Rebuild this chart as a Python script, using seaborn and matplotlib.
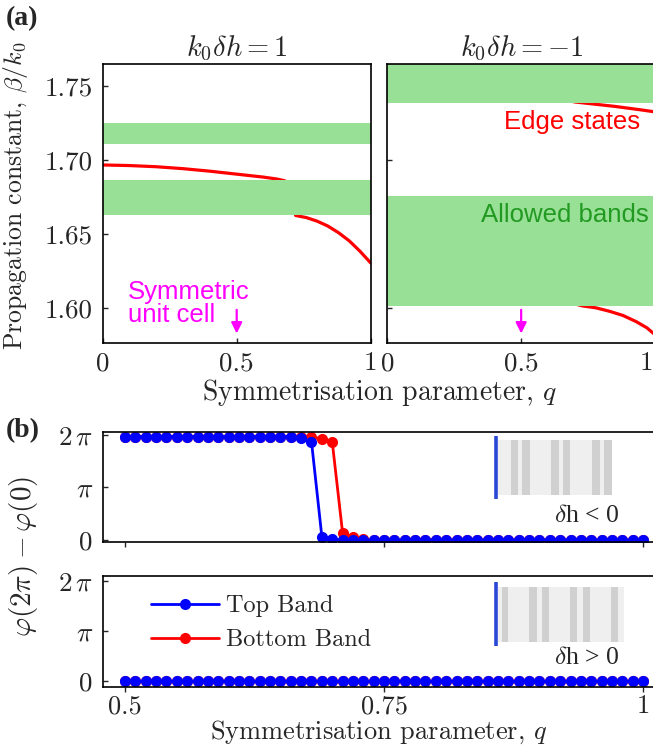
import numpy as np
import pandas as pd
import matplotlib
matplotlib.use('Agg')
import matplotlib.pyplot as plt
import matplotlib.transforms as mtransforms
import seaborn as sns

# ---- data ----
# (a) edge states, k0*dh = 1
q_left = [0, 0.1, 0.2, 0.3, 0.4, 0.5, 0.6, 0.65, 0.68, 0.70, 0.72, 0.76, 0.80, 0.84, 0.88, 0.92, 0.96, 1.0]
beta_left = [1.6967, 1.6963, 1.6955, 1.6942, 1.6925, 1.6905, 1.6885, 1.6872, 1.6860, 1.6760,
             1.6626, 1.6612, 1.6588, 1.6555, 1.6510, 1.6455, 1.6385, 1.6306]
bands_left = [(1.7109, 1.7248), (1.6630, 1.6866)]

# (a) edge states, k0*dh = -1
q_right_top = [0.5, 0.6, 0.7, 0.75, 0.8, 0.85, 0.9, 0.95, 1.0]
beta_right_top = [1.7470, 1.7440, 1.7392, 1.7382, 1.7372, 1.7362, 1.7350, 1.7338, 1.7325]
q_right_bot = [0.5, 0.6, 0.7, 0.73, 0.78, 0.83, 0.88, 0.93, 0.97, 1.0]
beta_right_bot = [1.6100, 1.6070, 1.6030, 1.6016, 1.6003, 1.5980, 1.5952, 1.5910, 1.5868, 1.5822]
bands_right = [(1.7387, 1.8000), (1.6016, 1.6758)]

# (b) winding of the phase
q_b = [0.50, 0.51, 0.52, 0.53, 0.54, 0.55, 0.56, 0.57, 0.58, 0.59,
       0.60, 0.61, 0.62, 0.63, 0.64, 0.65, 0.66, 0.67, 0.68, 0.69,
       0.70, 0.71, 0.72, 0.73, 0.74, 0.75, 0.76, 0.77, 0.78, 0.79,
       0.80, 0.81, 0.82, 0.83, 0.84, 0.85, 0.86, 0.87, 0.88, 0.89,
       0.90, 0.91, 0.92, 0.93, 0.94, 0.95, 0.96, 0.97, 0.98, 0.99, 1.00]
phase_neg_top = [6.18] * 17 + [6.08, 5.88, 0.20, 0.06] + [0.0] * 30
phase_neg_bottom = [6.18] * 18 + [6.15, 6.05, 5.88, 0.44, 0.16, 0.05] + [0.0] * 27
phase_pos_top = [0.0] * 51
phase_pos_bottom = [0.0] * 51

# ---- style ----
sns.set_style('ticks')
plt.rcParams['font.family'] = 'serif'
plt.rcParams['font.serif'] = ['cmr10']
plt.rcParams['mathtext.fontset'] = 'cm'
plt.rcParams['axes.formatter.use_mathtext'] = True
plt.rcParams['axes.edgecolor'] = 'black'
plt.rcParams['axes.linewidth'] = 1.2

GREEN = '#98e096'
TICK_FS = 19.5
LABEL_FS = 20
W, H = 653, 747
fig = plt.figure(figsize=(W / 100, H / 100), dpi=100)


def frac(l, t, r, b):
    return [l / W, 1 - b / H, (r - l) / W, (b - t) / H]


ax1 = fig.add_axes(frac(102.7, 64.3, 370.7, 343.3))
ax2 = fig.add_axes(frac(387.3, 64.3, 655, 343.3))
ax3 = fig.add_axes(frac(102.7, 432, 656, 541.7))
ax4 = fig.add_axes(frac(102.7, 575.7, 656, 686.7))

# ---- panel (a) ----
sns.lineplot(x=q_left, y=beta_left, color='red', lw=2.3, ax=ax1, zorder=1)
for lo, hi in bands_left:
    ax1.axhspan(lo, hi, color=GREEN, lw=0, zorder=1.5)
sns.lineplot(x=q_right_top, y=beta_right_top, color='red', lw=2.3, ax=ax2, zorder=1)
sns.lineplot(x=q_right_bot, y=beta_right_bot, color='red', lw=2.3, ax=ax2, zorder=1)
for lo, hi in bands_right:
    ax2.axhspan(lo, hi, color=GREEN, lw=0, zorder=1.5)

for ax in (ax1, ax2):
    ax.set_xlim(0, 1)
    ax.set_ylim(1.5764, 1.7646)
    ax.set_xticks([0, 0.5, 1])
    ax.set_yticks([1.60, 1.65, 1.70, 1.75])
    ax.tick_params(direction='in', length=3.5, width=1, labelsize=TICK_FS, pad=6)
    ax.tick_params(axis='y', pad=7)
    ax.annotate('', xy=(0.5, 1.5830), xytext=(0.5, 1.5990),
                arrowprops=dict(arrowstyle='-|>', color='magenta', lw=1.6,
                                mutation_scale=16, shrinkA=0, shrinkB=0), zorder=4)
ax1.set_xticklabels(['0', '0.5', '1'])
ax1.set_yticklabels(['1.60', '1.65', '1.70', '1.75'])
ax2.set_yticklabels([])
# last tick label of the right panel sits at the cropped edge: nudge it inwards
ax2.set_xticklabels(['0', '0.5', ''])
edge_tf = mtransforms.offset_copy(ax2.get_xaxis_transform(), fig=fig, x=-9, y=-8.3, units='dots')
ax2.text(1, 0, '1', transform=edge_tf, ha='center', va='top', fontsize=TICK_FS, clip_on=False)

ax1.text(0.094, 1.6034, 'Symmetric\nunit cell', color='magenta', ha='left', va='center',
         fontsize=18.5, linespacing=0.92, family='Liberation Sans', zorder=4)
ax2.text(0.946, 1.7259, 'Edge states', color='red', ha='right', va='center',
         fontsize=18.5, family='Liberation Sans', zorder=4)
ax2.text(0.975, 1.6630, 'Allowed bands', color='#229a22', ha='right', va='center',
         fontsize=18.5, family='Liberation Sans', zorder=4)

fig.text(236.7 / W, 1 - 56 / H, r'$k_0\delta h=1$', ha='center', va='baseline', fontsize=20.5)
fig.text(521.5 / W, 1 - 56 / H, r'$k_0\delta h=-1$', ha='center', va='baseline', fontsize=20.5)
fig.text(6 / W, 1 - 19 / H, '(a)', ha='left', va='center', fontsize=20,
         family='Liberation Serif', fontweight='bold')
fig.text(16 / W, 1 - 196 / H, r'Propagation constant, $\beta/k_0$', rotation=90,
         ha='center', va='center', fontsize=18.5)
fig.text(379 / W, 1 - 392 / H, r'Symmetrisation parameter, $q$', ha='center', va='center',
         fontsize=LABEL_FS)

# ---- panel (b) ----
df_neg = pd.DataFrame({'q': q_b, 'top': phase_neg_top, 'bottom': phase_neg_bottom})
df_pos = pd.DataFrame({'q': q_b, 'top': phase_pos_top, 'bottom': phase_pos_bottom})

for ax, df in ((ax3, df_neg), (ax4, df_pos)):
    sns.lineplot(data=df, x='q', y='bottom', color='red', lw=2, marker='o', markersize=8,
                 markeredgewidth=0, ax=ax, label='Bottom Band', legend=False)
    sns.lineplot(data=df, x='q', y='top', color='blue', lw=2, marker='o', markersize=8,
                 markeredgewidth=0, ax=ax, label='Top Band', legend=False)
    ax.set_xlim(0.4785, 1.0125)
    ax.set_xticks([0.5, 0.75, 1])
    ax.set_yticks([0, np.pi, 2 * np.pi])
    ax.set_yticklabels(['0', r'$\pi$', r'$2\,\pi$'])
    ax.set_xlabel('')
    ax.set_ylabel('')
    ax.tick_params(axis='y', direction='in', length=3.5, width=1, labelsize=TICK_FS, pad=7)
    ax.tick_params(axis='x', direction='out', length=3.5, width=1, labelsize=19, pad=2)

ax3.set_ylim(-0.10, 6.45)
ax4.set_ylim(-0.35, 6.60)
ax3.set_xticklabels([])
ax4.set_xticklabels(['0.5', '0.75', '1'])

h = ax4.get_lines()
ax4.legend([h[1], h[0]], ['Top Band', 'Bottom Band'], loc='upper left',
           bbox_to_anchor=(151 / W, 1 - 595 / H), bbox_transform=fig.transFigure,
           frameon=False, fontsize=17.5, handlelength=2.8, handletextpad=0.3,
           labelspacing=0.5, borderpad=0, borderaxespad=0)

fig.text(6 / W, 1 - 431 / H, '(b)', ha='left', va='center', fontsize=20,
         family='Liberation Serif', fontweight='bold')
fig.text(24 / W, 1 - 556 / H, r'$\varphi(2\pi)-\varphi(0)$', rotation=90,
         ha='center', va='center', fontsize=21)
fig.text(379 / W, 1 - 732 / H, r'Symmetrisation parameter, $q$', ha='center', va='center',
         fontsize=19)

# ---- unit-cell sketches (drawn in figure pixels) ----
ov = fig.add_axes([0, 0, 1, 1], zorder=10)
ov.set_xlim(0, W)
ov.set_ylim(H, 0)
ov.axis('off')
cells = [
    dict(bar=(436, 499), rect=(498, 440, 612, 495),
         stripes=[(511, 518), (522, 530), (551, 559), (563, 570), (592, 600), (604, 612)],
         label=r'$\delta$h < 0', ly=516),
    dict(bar=(582, 646), rect=(498, 587, 624, 642),
         stripes=[(502, 508), (529, 537), (542, 549), (570, 577), (583, 590), (611, 618)],
         label=r'$\delta$h > 0', ly=658),
]
for c in cells:
    x0, y0, x1, y1 = c['rect']
    ov.fill_between([x0, x1], y0, y1, color='#efefef', lw=0)
    for s0, s1 in c['stripes']:
        ov.fill_between([s0, s1], y0, y1, color='#d0d0d0', lw=0)
    ov.plot([495.5, 495.5], c['bar'], color='#2a48d6', lw=2.6, solid_capstyle='butt')
    ov.text(620, c['ly'], c['label'], ha='right', va='center', fontsize=18.5,
            family='Liberation Serif')

fig.savefig('out.png', dpi=100)
